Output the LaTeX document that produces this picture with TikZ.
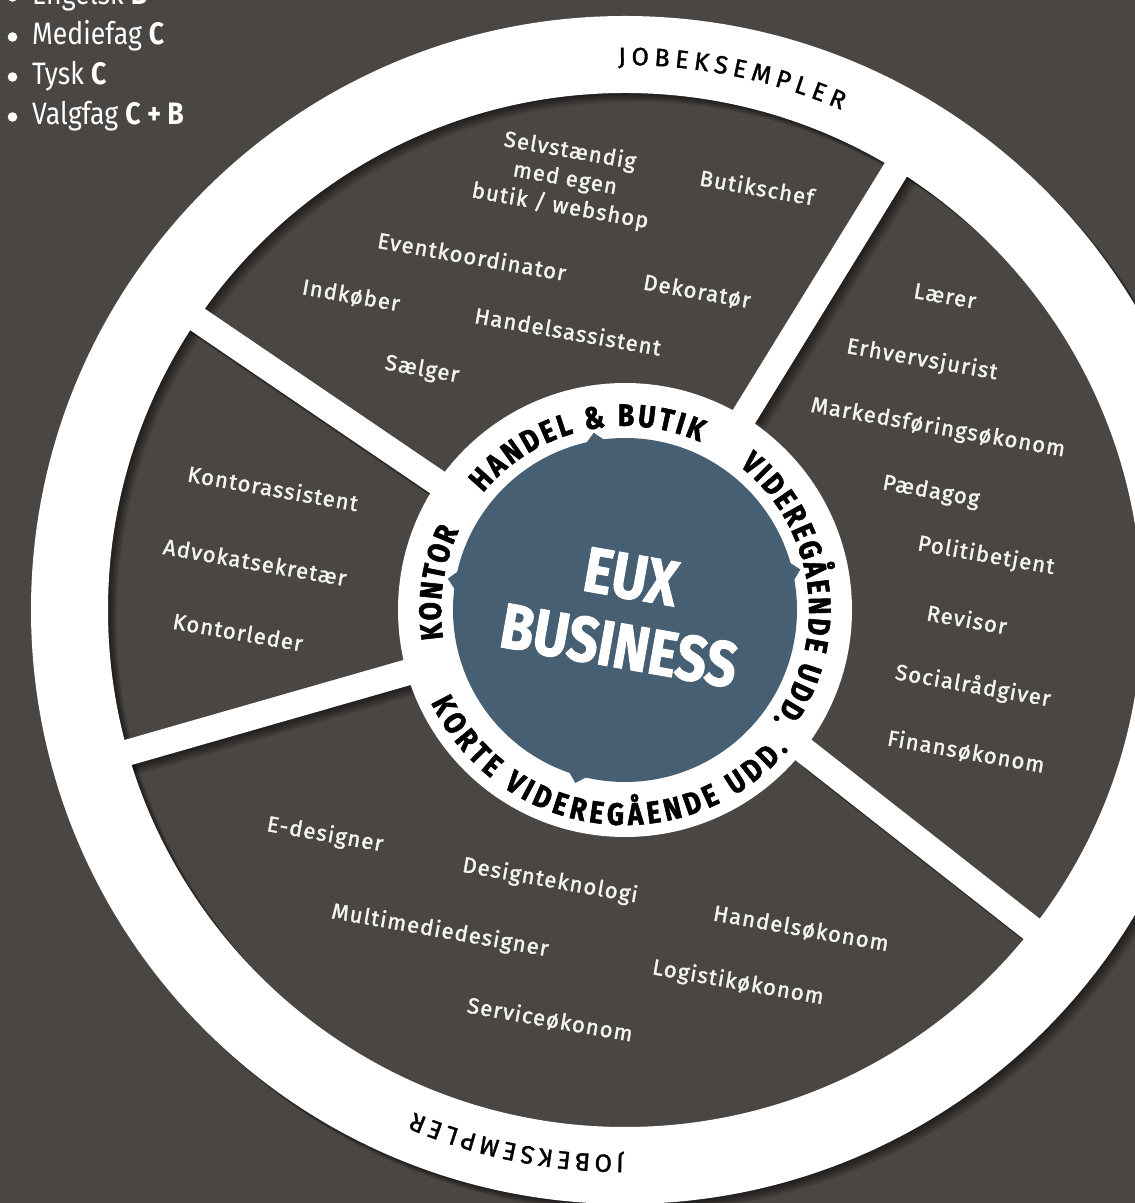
\documentclass[tikz,border=0pt]{standalone}
\usepackage{fontspec}
\setmainfont{Fira Sans}
\newfontfamily\jobfont[LetterSpace=5.5,FakeBold=1.6]{Fira Sans}
\newfontfamily\catfont[FakeStretch=0.85,FakeBold=1.8]{Fira Sans}
\newfontfamily\titlefont[FakeStretch=0.84,FakeBold=1.5]{Fira Sans}
\newfontfamily\listfont[FakeStretch=0.86]{Fira Sans}
\newfontfamily\ringfont[FakeBold=1.5]{Fira Sans}
\usetikzlibrary{decorations.text,calc}
\definecolor{bg}{HTML}{4A4643}
\definecolor{euxblue}{HTML}{465F73}
\definecolor{jobwhite}{HTML}{F4F4F2}
\tikzset{
  job/.style={text=jobwhite, font=\jobfont\fontsize{22}{28}\selectfont, rotate=-10, align=center, inner sep=0pt},
  listitem/.style={text=white, font=\listfont\fontsize{31}{36}\selectfont, anchor=base west, inner sep=0pt},
  bulletdot/.style={circle, fill=white, inner sep=0pt, minimum size=9.6pt},
  title/.style={text=white, font=\titlefont\bfseries\fontsize{64}{70}\selectfont, rotate=-10, align=center, inner sep=0pt},
  cattext/.style={decorate, decoration={text along path, text align={fit to path}, text={|\catfont\bfseries\fontsize{31}{31}\selectfont|#1}}},
  ringtext/.style={decorate, decoration={text along path, text align={fit to path}, text={|\ringfont\fontsize{25}{25}\selectfont|#1}}}
}
\begin{document}
\begin{tikzpicture}[x=1pt,y=1pt]
\useasboundingbox (0,0) rectangle (1135,1203);
\clip (0,0) rectangle (1135,1203);
\fill[bg] (0,0) rectangle (1135,1203);
\coordinate (C) at (625,593);
% soft shadows of the white parts
\foreach \s in {1,...,10}{
  \fill[black, opacity=0.065, even odd rule] ({625+0.9*\s},{593-0.9*\s}) circle[radius=594] ({625+0.9*\s},{593-0.9*\s}) circle[radius=517];
  \foreach \a in {145.8,58.4,-38.1,196}{
    \begin{scope}[shift={({625+0.9*\s},{593-0.9*\s})}, rotate=\a]
      \fill[black, opacity=0.065] (230,-13) rectangle (540,13);
    \end{scope}
  }
}
% white ring, spokes and inner disk
\fill[white, even odd rule] (C) circle[radius=594] (C) circle[radius=517];
\foreach \a in {145.8,58.4,-38.1,196}{
  \begin{scope}[shift={(625,593)}, rotate=\a]
    \fill[white] (0,-13) rectangle (560,13);
  \end{scope}
}
\fill[white] (C) circle[radius=227];
% blue centre
\fill[euxblue] (C) circle[radius=172];
\foreach \b in {100,170,13,-106}{
  \fill[euxblue] ($(C)+(\b-3.6:170)$) -- ($(C)+(\b:180)$) -- ($(C)+(\b+3.6:170)$) -- cycle;
}
\node[title] (eux) at (625,591.5) {EUX\\BUSINESS};
% category labels
\path[cattext={HANDEL {\&} BUTIK}] ($(C)+(140.5:184)$) arc[start angle=140.5, end angle=66, radius=184];
\path[cattext={VIDEREGÅENDE UDD.}] ($(C)+(51.5:184)$) arc[start angle=51.5, end angle=-36.5, radius=184];
\path[cattext={KONTOR}] ($(C)+(189:184)$) arc[start angle=189, end angle=154.5, radius=184];
\path[cattext={KORTE VIDEREGÅENDE UDD.}] ($(C)+(205.5:215)$) arc[start angle=205.5, end angle=319.5, radius=215];
% ring labels
\path[ringtext={JOBEKSEMPLER}] ($(C)+(90.7:545)$) arc[start angle=90.7, end angle=66.6, radius=545];
\path[ringtext={JOBEKSEMPLER}] ($(C)+(-90.1:545)$) arc[start angle=-90.1, end angle=-112.8, radius=545];
% jobs: handel & butik
\node[job] (selv) at (565,1024) {Selvstændig\\med egen\\butik / webshop};
\node[job] (butikschef) at (757,1016) {Butikschef};
\node[job] (event) at (472,947) {Eventkoordinator};
\node[job] (dekor) at (697,911) {Dekoratør};
\node[job] (indk) at (351,907) {Indkøber};
\node[job] (handass) at (568,872) {Handelsassistent};
\node[job] (saelger) at (422,833) {Sælger};
% kontor
\node[job] (kontass) at (273,715) {Kontorassistent};
\node[job] (advok) at (255,641) {Advokatsekretær};
\node[job] (kontl) at (238,571) {Kontorleder};
% videregaaende
\node[job] (laerer) at (945,907) {Lærer};
\node[job] (erhv) at (922,843) {Erhvervsjurist};
\node[job] (marked) at (938,775) {Markedsføringsøkonom};
\node[job] (paed) at (931,711) {Pædagog};
\node[job] (polit) at (986,647) {Politibetjent};
\node[job] (revisor) at (967,584) {Revisor};
\node[job] (social) at (973,517) {Socialrådgiver};
\node[job] (finans) at (966,451) {Finansøkonom};
% korte videregaaende
\node[job] (edesign) at (325,368) {E-designer};
\node[job] (designtek) at (550,322) {Designteknologi};
\node[job] (multi) at (440,272) {Multimediedesigner};
\node[job] (handoek) at (801,274) {Handelsøkonom};
\node[job] (logist) at (738,220) {Logistikøkonom};
\node[job] (service) at (550,183) {Serviceøkonom};
% list top left
\node[bulletdot] (b1) at (12.5,1206) {};
\node[bulletdot] (b2) at (12.5,1166) {};
\node[bulletdot] (b3) at (12.5,1126) {};
\node[bulletdot] (b4) at (12.5,1086) {};
\node[listitem] (l1) at (32,1198) {Engelsk \textbf{B}};
\node[listitem] (l2) at (32,1158) {Mediefag \textbf{C}};
\node[listitem] (l3) at (32,1118) {Tysk \textbf{C}};
\node[listitem] (l4) at (32,1078) {Valgfag \textbf{C + B}};
\end{tikzpicture}
\end{document}
